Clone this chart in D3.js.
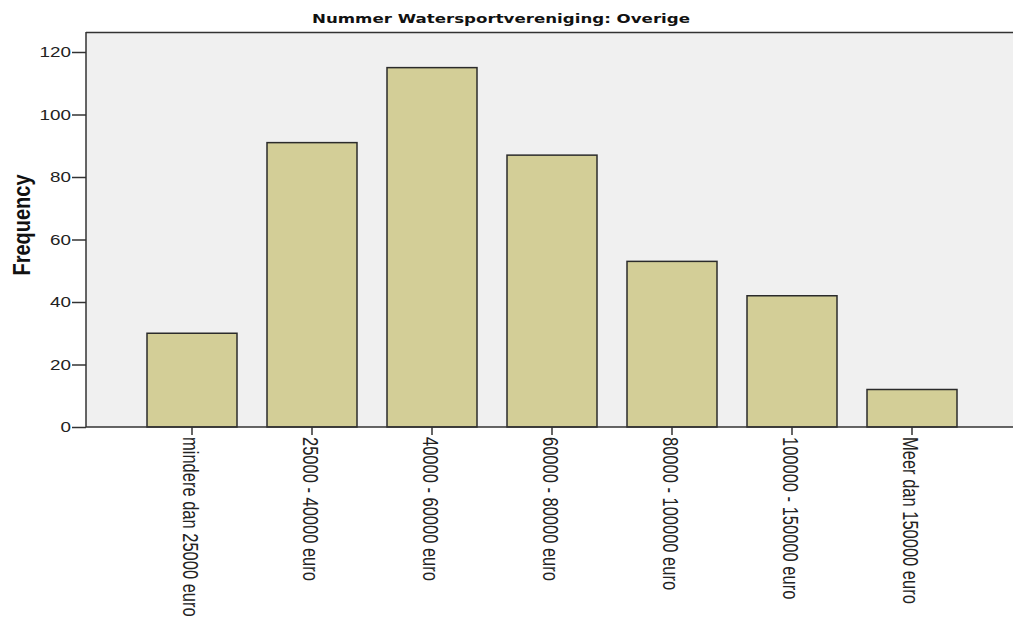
<!DOCTYPE html>
<html>
<head>
<meta charset="utf-8">
<script src="https://cdn.jsdelivr.net/npm/d3@7"></script>
<style>
html,body{margin:0;padding:0;background:#fff;}
svg{display:block;}
</style>
</head>
<body>
<svg id="chart" width="1013" height="621"></svg>
<script>
const title = "Nummer Watersportvereniging: Overige";
const yTitle = "Frequency";
const categories = ["mindere dan 25000 euro","25000 - 40000 euro","40000 - 60000 euro","60000 - 80000 euro","80000 - 100000 euro","100000 - 150000 euro","Meer dan 150000 euro"];
const values = [30, 91, 115, 87, 53, 42, 12];
const yTicks = [0, 20, 40, 60, 80, 100, 120];

const svg = d3.select("#chart");
const plot = {left: 86, top: 32, right: 1013, bottom: 427};

const y = d3.scaleLinear().domain([0, 126.4]).range([plot.bottom, plot.top]);
const x = d3.scaleBand().domain(categories).range([132, 972]).paddingInner(0.25).paddingOuter(0.125);

// plot background
svg.append("rect").attr("x", plot.left).attr("y", plot.top)
  .attr("width", plot.right - plot.left).attr("height", plot.bottom - plot.top)
  .attr("fill", "#f0f0f0");

// top frame line
svg.append("line").attr("x1", plot.left).attr("x2", plot.right).attr("y1", plot.top + 0.5).attr("y2", plot.top + 0.5)
  .attr("stroke", "#333").attr("stroke-width", 1.5);

// bars
svg.selectAll("rect.bar").data(values).join("rect").attr("class", "bar")
  .attr("x", (d, i) => x(categories[i]))
  .attr("y", d => y(d))
  .attr("width", x.bandwidth())
  .attr("height", d => y(0) - y(d))
  .attr("fill", "#d3ce97")
  .attr("stroke", "#2b2b2b").attr("stroke-width", 1.5);

// y axis
const yAxis = d3.axisLeft(y).tickValues(yTicks).tickSize(14).tickFormat("");
const gy = svg.append("g").attr("transform", `translate(${plot.left},0)`).call(yAxis);
gy.select(".domain").attr("d", `M0,${plot.top}V${plot.bottom}`).attr("stroke", "#333").attr("stroke-width", 1.5);
gy.selectAll(".tick line").attr("stroke", "#333").attr("stroke-width", 1.5);

// y tick labels (horizontally stretched like the reference)
svg.append("g").selectAll("text").data(yTicks).join("text")
  .attr("transform", d => `translate(${plot.left - 15},${y(d)}) scale(1.3,1)`)
  .attr("dy", "0.35em").attr("text-anchor", "end")
  .attr("font-family", "Liberation Sans, Arial, sans-serif").attr("font-size", 14.5)
  .attr("fill", "#222")
  .text(d => d);

// x axis
const xAxis = d3.axisBottom(x).tickSize(8).tickFormat("");
const gx = svg.append("g").attr("transform", `translate(0,${plot.bottom})`).call(xAxis);
gx.select(".domain").attr("d", `M${plot.left},0H${plot.right}`).attr("stroke", "#333").attr("stroke-width", 1.5);
gx.selectAll(".tick line").attr("stroke", "#333").attr("stroke-width", 1.5);

// rotated x labels
svg.append("g").selectAll("text").data(categories).join("text")
  .attr("transform", d => `translate(${x(d) + x.bandwidth() / 2 - 1},${plot.bottom + 10}) scale(1.3,1) rotate(90)`)
  .attr("dy", "0.35em")
  .attr("text-anchor", "start")
  .attr("font-family", "Liberation Sans, Arial, sans-serif")
  .attr("font-size", 16.5)
  .attr("fill", "#222")
  .text(d => d);

// y title
svg.append("text")
  .attr("transform", `translate(22,225) scale(1.15,1) rotate(-90)`)
  .attr("text-anchor", "middle").attr("dy", "0.35em")
  .attr("font-family", "Liberation Sans, Arial, sans-serif")
  .attr("font-weight", "bold").attr("font-size", 20)
  .attr("fill", "#111")
  .text(yTitle);

// title
svg.append("text")
  .attr("x", 501).attr("y", 23)
  .attr("text-anchor", "middle")
  .attr("font-family", "DejaVu Sans, Verdana, sans-serif")
  .attr("font-weight", "bold").attr("font-size", 13)
  .attr("textLength", 378).attr("lengthAdjust", "spacingAndGlyphs")
  .attr("fill", "#111")
  .text(title);
</script>
</body>
</html>
